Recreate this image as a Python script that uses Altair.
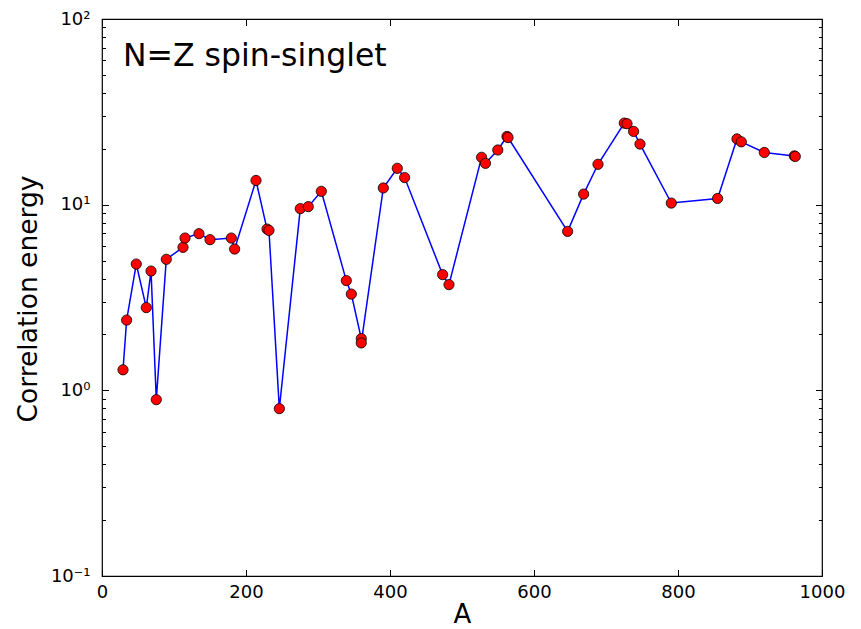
import altair as alt
import pandas as pd

# Data
A_vals = [29.2, 34.2, 47.6, 61.5, 68.1, 75.4, 89.3, 112.5, 115.3, 134.7,
          150.0, 179.6, 184.2, 213.9, 229.2, 231.9, 246.3, 275.4, 286.5, 304.6,
          339.3, 346.3, 360.1, 360.1, 390.7, 410.1, 420.3, 473.1, 481.9, 527.2,
          532.6, 549.7, 562.5, 563.9, 646.7, 668.9, 688.9, 725.4, 729.2, 738.3,
          747.2, 790.7, 855.0, 881.9, 887.9, 919.9, 961.5, 962.9]
E_vals = [1.29, 2.39, 4.79, 2.79, 4.39, 0.891, 5.08, 5.89, 6.61, 6.98,
          6.48, 6.61, 5.77, 13.5, 7.39, 7.27, 0.797, 9.52, 9.76, 11.8,
          3.90, 3.30, 1.90, 1.80, 12.3, 15.7, 14.0, 4.20, 3.71, 18.0,
          16.7, 19.7, 23.3, 23.0, 7.18, 11.4, 16.5, 27.5, 27.3, 24.8,
          21.2, 10.2, 10.8, 22.6, 21.8, 19.1, 18.3, 18.2]

x_ticks = [0, 200, 400, 600, 800, 1000]
y_major = [0.1, 1, 10, 100]
y_major_labels = ["10⁻¹", "10⁰", "10¹", "10²"]
y_minor = [0.2, 0.3, 0.4, 0.5, 0.6, 0.7, 0.8, 0.9,
           2, 3, 4, 5, 6, 7, 8, 9,
           20, 30, 40, 50, 60, 70, 80, 90]

title_text = "N=Z spin-singlet"
x_title = "A"
y_title = "Correlation energy"

df = pd.DataFrame({"A": A_vals, "E": E_vals, "idx": list(range(len(A_vals)))})

W, H = 720, 557
FONT = "DejaVu Sans"

x_scale = alt.Scale(domain=[0, 1000], nice=False, zero=False)
y_scale = alt.Scale(type="log", domain=[0.1, 100], nice=False)

label_expr = " : ".join(
    [f"abs(datum.value - {v}) < {v}*0.01 ? '{l}'" for v, l in zip(y_major[:-1], y_major_labels[:-1])]
) + f" : '{y_major_labels[-1]}'"

base = alt.Chart(df)

line = base.mark_line(color="#0000ff", strokeWidth=1.5).encode(
    x=alt.X("A:Q", scale=x_scale,
            axis=alt.Axis(values=x_ticks, format="d", ticks=False, domain=False, grid=False,
                          labelPadding=7, labelFontSize=18, labelFont=FONT,
                          labelColor="black", labelFlush=False,
                          title=x_title, titleFontSize=26, titleFont=FONT,
                          titleFontWeight="normal", titleColor="black",
                          titleY=46, titleBaseline="alphabetic")),
    y=alt.Y("E:Q", scale=y_scale,
            axis=alt.Axis(values=y_major, labelExpr=label_expr, ticks=False,
                          domain=False, grid=False, labelPadding=12,
                          labelFontSize=18, labelFont=FONT, labelColor="black",
                          labelFlush=False, labelBaseline="middle",
                          title=y_title, titleFontSize=26.5, titleFont=FONT,
                          titleFontWeight="normal", titleColor="black",
                          titleX=-66, titleY=279.5, titleAngle=270,
                          titleAlign="center", titleBaseline="alphabetic")),
    order="idx:Q",
)

points = base.mark_point(filled=True, fill="#ff0000", stroke="black",
                         strokeWidth=0.8, opacity=1, size=105, shape="circle").encode(
    x=alt.X("A:Q", scale=x_scale, axis=None),
    y=alt.Y("E:Q", scale=y_scale, axis=None),
)

label = alt.Chart(pd.DataFrame({"t": [title_text]})).mark_text(
    align="left", baseline="alphabetic", fontSize=31.5, font=FONT, color="black"
).encode(text="t:N", x=alt.value(21), y=alt.value(47))


def tick_axis(orient, offset, values, size):
    return alt.Axis(orient=orient, offset=offset, values=values, tickSize=size,
                    tickWidth=1, tickColor="black", labels=False, domain=False,
                    grid=False, title=None)


def x_tick_layer(orient, offset):
    return base.mark_point(opacity=0).encode(
        x=alt.X("A:Q", scale=x_scale, axis=tick_axis(orient, offset, x_ticks, 6.5)),
        y=alt.Y("E:Q", scale=y_scale, axis=None),
    )


def y_tick_layer(orient, offset, values, size):
    return base.mark_point(opacity=0).encode(
        x=alt.X("A:Q", scale=x_scale, axis=None),
        y=alt.Y("E:Q", scale=y_scale, axis=tick_axis(orient, offset, values, size)),
    )


layers = [
    line, points, label,
    x_tick_layer("top", -H),      # bottom edge, ticks pointing up
    x_tick_layer("bottom", -H),   # top edge, ticks pointing down
    y_tick_layer("right", -W, y_major, 6.5),  # left edge, inward
    y_tick_layer("right", -W, y_minor, 3.5),
    y_tick_layer("left", -W, y_major, 6.5),   # right edge, inward
    y_tick_layer("left", -W, y_minor, 3.5),
]

chart = alt.layer(*layers).resolve_axis(x="independent", y="independent").properties(
    width=W, height=H,
    autosize=alt.AutoSizeParams(type="none"),
    padding={"left": 94, "top": 11, "right": 30, "bottom": 54},
    background="white",
).configure_view(stroke="black", strokeWidth=1.2)

chart.save("out.html", embed_options={"renderer": "svg", "actions": False})
